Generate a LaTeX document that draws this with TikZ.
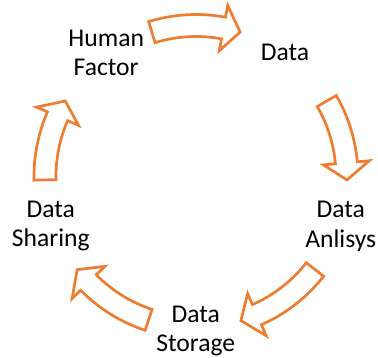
\documentclass[tikz,border=0pt]{standalone}
\usepackage{fontspec}
\setmainfont{Carlito}
\definecolor{cycorange}{RGB}{237,125,49}
% curved block arrow on the cycle: #1 tail angle, #2 tip angle
\newcommand\blockarc[2]{%
  \pgfmathsetmacro\headbase{#2+6.5}%
  \draw[cyclearrow,shift={(C)}]
    (#1:162pt) arc[start angle=#1,end angle=\headbase,radius=162pt]
    -- (\headbase:174pt) -- (#2:151pt) -- (\headbase:128pt)
    -- (\headbase:140pt) arc[start angle=\headbase,end angle=#1,radius=140pt]
    -- cycle;}
\begin{document}
\begin{tikzpicture}[x=1pt,y=1pt,
  cyclearrow/.style={draw=cycorange,line width=2.7pt,fill=white,line join=miter},
  steplabel/.style={align=center,inner sep=0pt,
    font=\fontsize{25.6}{29.3}\selectfont}]
\useasboundingbox (0,0) rectangle (378,-358);
\coordinate (C) at (196,-176.5);

% stages of the cycle
\node[steplabel] (human)   at (106.2,-52.6) {Human\\Factor};
\node[steplabel] (data)    at (285,-52.4)   {Data};
\node[steplabel] (analysis) at (340.8,-226.3) {Data\\Anlisys};
\node[steplabel] (storage) at (195.8,-331.3) {Data\\Storage};
\node[steplabel] (sharing) at (50.8,-226.3)  {Data\\Sharing};

% arrows between the stages
\blockarc{107}{73}
\blockarc{30}{-1.3}
\blockarc{-38}{-72.7}
\blockarc{-108.3}{-141.9}
\blockarc{181.3}{150}
\end{tikzpicture}
\end{document}
